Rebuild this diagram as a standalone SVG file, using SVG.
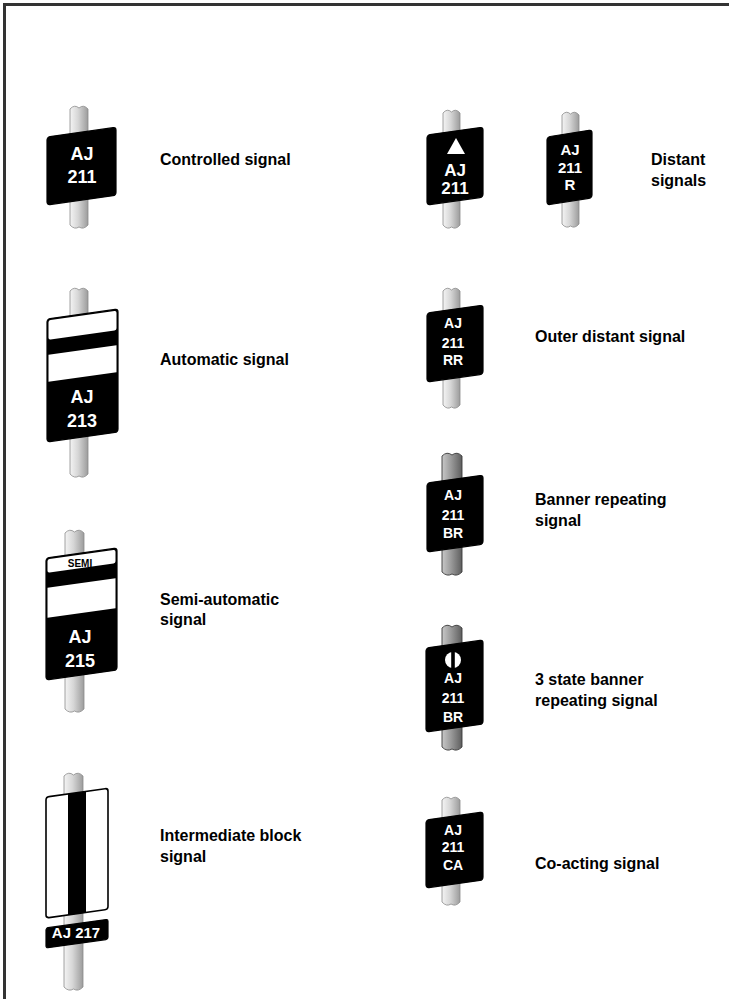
<svg xmlns="http://www.w3.org/2000/svg" width="729" height="999" viewBox="0 0 729 999">
<defs>
<linearGradient id="poleG" x1="0" y1="0" x2="1" y2="0">
<stop offset="0" stop-color="#f4f4f4"/>
<stop offset="0.45" stop-color="#d6d6d6"/>
<stop offset="1" stop-color="#9c9c9c"/>
</linearGradient>
<linearGradient id="poleD" x1="0" y1="0" x2="1" y2="0">
<stop offset="0" stop-color="#c8c8c8"/>
<stop offset="0.45" stop-color="#9a9a9a"/>
<stop offset="1" stop-color="#5e5e5e"/>
</linearGradient>
</defs>
<style>
.pole{fill:url(#poleG);stroke:#8a8a8a;stroke-width:0.8}
.poled{fill:url(#poleD);stroke:#3a3a3a;stroke-width:0.9}
.sign{fill:#000;stroke:#000;stroke-width:1.2;stroke-linejoin:round}
.wsign{fill:#fff;stroke:#000;stroke-width:1.6;stroke-linejoin:round}
.wh{fill:#fff}
.st{font-family:"Liberation Sans",Arial,sans-serif;font-weight:bold;fill:#fff;text-anchor:middle}
.bt{font-family:"Liberation Sans",Arial,sans-serif;font-weight:bold;fill:#000;text-anchor:middle}
.lbl{font-family:"Liberation Sans",Arial,sans-serif;font-weight:bold;font-size:16px;fill:#000}
.frame{fill:none;stroke:#333;stroke-width:3}
</style>
<path class="frame" d="M4.5,999 V4.5 H729"/>

<g id="controlled">
<path class="pole" d="M70,109 Q74.5,104 79,108 Q83.5,104 88,109 V225 Q83.5,230 79,227 Q74.5,230 70,225 Z"/>
<g transform="translate(47,137) skewY(-8)"><rect class="sign" x="0" y="0" width="69" height="68" rx="3"/></g>
<text class="st" x="82" y="160" font-size="18">AJ</text>
<text class="st" x="82" y="183" font-size="18">211</text>
<text class="lbl" x="160" y="165">Controlled signal</text>
</g>

<g id="automatic">
<path class="pole" d="M70,291 Q74.5,286 79,290 Q83.5,286 88,291 V474 Q83.5,479 79,476 Q74.5,479 70,474 Z"/>
<g transform="translate(47,319) skewY(-8)">
<rect class="sign" x="0" y="0" width="71" height="123" rx="3"/>
<rect class="wh" x="1.5" y="1.5" width="68" height="19.5" rx="2"/>
<rect class="wh" x="1.5" y="36" width="68" height="27"/>
</g>
<text class="st" x="82" y="403" font-size="18">AJ</text>
<text class="st" x="82" y="427" font-size="18">213</text>
<text class="lbl" x="160" y="365">Automatic signal</text>
</g>

<g id="semi">
<path class="pole" d="M65,533 Q69.75,528 74.5,532 Q79.25,528 84,533 V709 Q79.25,714 74.5,711 Q69.75,714 65,709 Z"/>
<g transform="translate(46,558) skewY(-8)">
<rect class="sign" x="0" y="0" width="71" height="122" rx="3"/>
<rect class="wh" x="1.5" y="1.5" width="68" height="13.5" rx="2"/>
<rect class="wh" x="1.5" y="30" width="68" height="30"/>
</g>
<text class="bt" x="80" y="567" font-size="10">SEMI</text>
<text class="st" x="80" y="643" font-size="18">AJ</text>
<text class="st" x="80" y="667" font-size="18">215</text>
<text class="lbl" x="160" y="605">Semi-automatic</text>
<text class="lbl" x="160" y="625">signal</text>
</g>

<g id="intermediate">
<path class="pole" d="M64,776 Q68.75,771 73.5,775 Q78.25,771 83,776 V987 Q78.25,992 73.5,989 Q68.75,992 64,987 Z"/>
<g transform="translate(46,797) skewY(-8)">
<rect class="wsign" x="0" y="0" width="62" height="121" rx="3"/>
<rect x="22" y="0" width="18" height="121" fill="#000"/>
</g>
<g transform="translate(46,928) skewY(-8)"><rect class="sign" x="0" y="0" width="62" height="20" rx="2"/></g>
<text class="st" x="76" y="938" font-size="15">AJ 217</text>
<text class="lbl" x="160" y="841">Intermediate block</text>
<text class="lbl" x="160" y="862">signal</text>
</g>

<g id="distant-triangle">
<path class="pole" d="M443,113 Q447.25,108 451.5,112 Q455.75,108 460,113 V225 Q455.75,230 451.5,227 Q447.25,230 443,225 Z"/>
<g transform="translate(427,135) skewY(-8)"><rect class="sign" x="0" y="0" width="56" height="70" rx="3"/></g>
<polygon class="wh" points="456,138 447,154 465,154"/>
<text class="st" x="455" y="176" font-size="17">AJ</text>
<text class="st" x="455" y="194" font-size="17">211</text>
</g>

<g id="distant-r">
<path class="pole" d="M562,115 Q566.25,110 570.5,114 Q574.75,110 579,115 V224 Q574.75,229 570.5,226 Q566.25,229 562,224 Z"/>
<g transform="translate(547,137) skewY(-9)"><rect class="sign" x="0" y="0" width="45" height="68" rx="3"/></g>
<text class="st" x="570" y="155" font-size="15">AJ</text>
<text class="st" x="570" y="173" font-size="15">211</text>
<text class="st" x="570" y="190" font-size="15">R</text>
<text class="lbl" x="651" y="165">Distant</text>
<text class="lbl" x="651" y="186">signals</text>
</g>

<g id="outer-distant">
<path class="pole" d="M443,291 Q447.25,286 451.5,290 Q455.75,286 460,291 V405 Q455.75,410 451.5,407 Q447.25,410 443,405 Z"/>
<g transform="translate(427,313) skewY(-8)"><rect class="sign" x="0" y="0" width="56" height="69" rx="3"/></g>
<text class="st" x="453" y="328" font-size="14">AJ</text>
<text class="st" x="453" y="348" font-size="14">211</text>
<text class="st" x="453" y="365" font-size="14">RR</text>
<text class="lbl" x="535" y="342">Outer distant signal</text>
</g>

<g id="banner-repeating">
<path class="poled" d="M442,456 Q447,451 452,455 Q457,451 462,456 V572 Q457,577 452,574 Q447,577 442,572 Z"/>
<g transform="translate(427,483) skewY(-8)"><rect class="sign" x="0" y="0" width="56" height="69" rx="3"/></g>
<text class="st" x="453" y="500" font-size="14">AJ</text>
<text class="st" x="453" y="520" font-size="14">211</text>
<text class="st" x="453" y="538" font-size="14">BR</text>
<text class="lbl" x="535" y="505">Banner repeating</text>
<text class="lbl" x="535" y="526">signal</text>
</g>

<g id="three-state-banner">
<path class="poled" d="M442,628 Q447,623 452,627 Q457,623 462,628 V747 Q457,752 452,749 Q447,752 442,747 Z"/>
<g transform="translate(426,648) skewY(-8)"><rect class="sign" x="0" y="0" width="57" height="84" rx="3"/></g>
<circle class="wh" cx="453" cy="660" r="8"/>
<rect x="451.2" y="651.5" width="3.6" height="17" fill="#000"/>
<text class="st" x="453" y="683" font-size="14">AJ</text>
<text class="st" x="453" y="703" font-size="14">211</text>
<text class="st" x="453" y="722" font-size="14">BR</text>
<text class="lbl" x="535" y="685">3 state banner</text>
<text class="lbl" x="535" y="706">repeating signal</text>
</g>

<g id="co-acting">
<path class="pole" d="M442,800 Q446.5,795 451,799 Q455.5,795 460,800 V902 Q455.5,907 451,904 Q446.5,907 442,902 Z"/>
<g transform="translate(426,820) skewY(-8)"><rect class="sign" x="0" y="0" width="57" height="68" rx="3"/></g>
<text class="st" x="453" y="835" font-size="14">AJ</text>
<text class="st" x="453" y="852" font-size="14">211</text>
<text class="st" x="453" y="870" font-size="14">CA</text>
<text class="lbl" x="535" y="869">Co-acting signal</text>
</g>
<g id="connectors"/>
</svg>
